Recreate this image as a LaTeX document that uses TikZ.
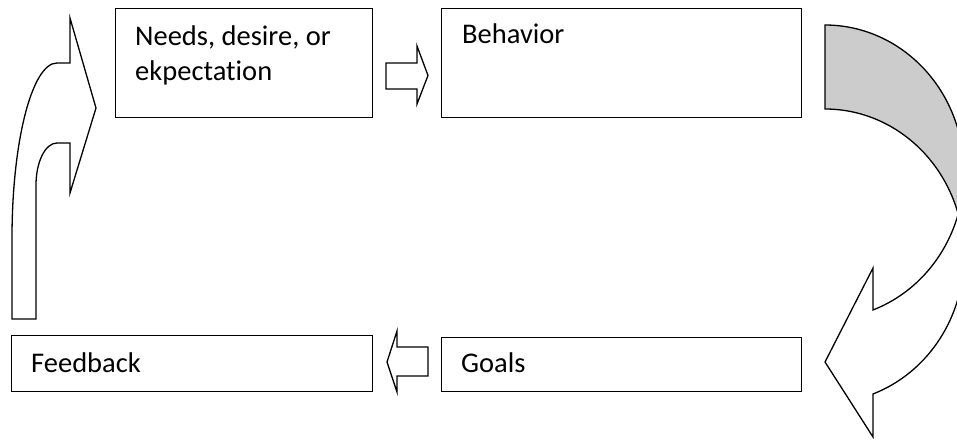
\documentclass[tikz,border=0pt]{standalone}
\usepackage{fontspec}
\setmainfont{Carlito}[Ligatures=NoCommon]
\definecolor{shade}{RGB}{204,204,204}
\begin{document}
\begin{tikzpicture}[x=1pt,y=-1pt,line join=miter,
  box/.style={draw=black,line width=1.3pt,rectangle,inner sep=0pt,anchor=north west},
  txt/.style={font=\fontsize{28.5}{34}\selectfont,inner sep=0pt,anchor=base west},
  blockarrow/.style={draw=black,line width=1.3pt,fill=white}]
\useasboundingbox (0,0) rectangle (957,439);
% boxes
\node[box,minimum width=257pt,minimum height=109pt] (needs) at (115,8) {};
\node[box,minimum width=360pt,minimum height=109pt] (behavior) at (441,8) {};
\node[box,minimum width=361pt,minimum height=56pt] (feedback) at (11,335) {};
\node[box,minimum width=360pt,minimum height=54pt] (goals) at (441,337) {};
% texts
\node[txt] (needsA) at (135,45) {Needs, desire, or};
\node[txt] (needsB) at (135,80) {ekpectation};
\node[txt] (behaviortxt) at (462,43) {Behavior};
\node[txt] (feedbacktxt) at (31,372) {Feedback};
\node[txt] (goalstxt) at (461,372) {Goals};
% small block arrows
\filldraw[blockarrow] (386,63) -- (417,63) -- (417,46) -- (428,75.5) -- (417,104) -- (417,89) -- (386,89) -- cycle;
\filldraw[blockarrow] (428,347) -- (397,347) -- (397,331) -- (387,362) -- (397,392) -- (397,376) -- (428,376) -- cycle;
% left curved arrow
\filldraw[blockarrow] (12,319) -- (12,238) .. controls (12,141.3) and (32.1,63) .. (57,63) -- (70,63) -- (70,18) -- (96,108) -- (70,193) -- (70,143) -- (57,143) .. controls (45.4,143) and (36,161.8) .. (36,185) -- (36,319) -- cycle;
% right curved arrow
\begin{scope}
\clip (0,0) rectangle (957,439);
\filldraw[fill=shade,draw=black,line width=1.3pt]
  plot[domain=90:-16.6,samples=80,variable=\t] ({825+139*cos(\t)},{172-147*sin(\t)})
  -- plot[domain=16.6:90,samples=80,variable=\t] ({825+139*cos(\t)},{256-147*sin(\t)})
  -- cycle;
\filldraw[blockarrow]
  plot[domain=-16.6:-69.8,samples=80,variable=\t] ({825+139*cos(\t)},{172-147*sin(\t)})
  -- (873,268) -- (825,362) -- (873,437) -- (873,394)
  -- plot[domain=-69.8:16.6,samples=80,variable=\t] ({825+139*cos(\t)},{256-147*sin(\t)})
  -- cycle;
\end{scope}
\end{tikzpicture}
\end{document}
